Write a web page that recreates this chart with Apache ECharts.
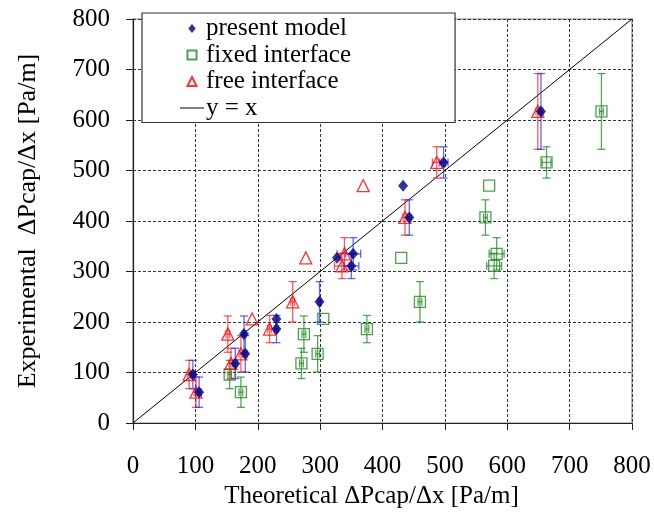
<!DOCTYPE html>
<html>
<head>
<meta charset="utf-8">
<script src="https://cdn.jsdelivr.net/npm/echarts@6/dist/echarts.min.js"></script>
<style>html,body{margin:0;padding:0;background:#fff;}#c{width:654px;height:514px;}</style>
</head>
<body>
<div id="c"></div>
<script>
// Experimental values (shared by all three series)
const expY   = [96, 61, 118, 176, 137, 206, 186, 240, 327, 335, 311, 470, 407, 516, 617];
const expErr = [28, 30, 30, 36, 36, 0, 27, 40, 0, 32, 25, 0, 35, 31, 75];
// Theoretical values per model
const presentX = [96, 106, 164, 178, 180, 230, 230, 299, 327, 353, 350, 433, 443, 498, 654];
const fixedX   = [155, 173, 270, 274, 296, 305, 375, 460, 430, 583, 579, 571, 565, 663, 751];
const freeX    = [90, 101, 157, 152, 173, 191, 219, 256, 277, 339, 335, 369, 436, 487, 649];
const xErr     = [3, 3, 3, 3, 3, 0, 3, 3, 0, 12, 12, 0, 3, 7, 3];
const ticks = [0, 100, 200, 300, 400, 500, 600, 700, 800];
const seriesNames = ['present model', 'fixed interface', 'free interface', 'y = x'];

const FONT = 'Liberation Serif';
const FS = 25;
function pts(xs){ return xs.map((x,i)=>[x, expY[i]]); }
function errData(xs){ return xs.map((x,i)=>[x, expY[i], expErr[i], xErr[i]]); }

function errRenderer(color){
  return function(params, api){
    const x = api.value(0), y = api.value(1), ey = api.value(2), ex = api.value(3);
    const st = {stroke: color, lineWidth: 1.3, opacity: 0.75};
    const ch = [];
    if (ey > 0) {
      const t = api.coord([x, y + ey]), b = api.coord([x, y - ey]);
      ch.push({type:'line', shape:{x1:t[0], y1:t[1], x2:b[0], y2:b[1]}, style:st});
      ch.push({type:'line', shape:{x1:t[0]-4, y1:t[1], x2:t[0]+4, y2:t[1]}, style:st});
      ch.push({type:'line', shape:{x1:b[0]-4, y1:b[1], x2:b[0]+4, y2:b[1]}, style:st});
    }
    if (ex > 0) {
      const l = api.coord([x - ex, y]), r = api.coord([x + ex, y]);
      ch.push({type:'line', shape:{x1:l[0], y1:l[1], x2:r[0], y2:r[1]}, style:st});
      ch.push({type:'line', shape:{x1:l[0], y1:l[1]-4, x2:l[0], y2:l[1]+4}, style:st});
      ch.push({type:'line', shape:{x1:r[0], y1:r[1]-4, x2:r[0], y2:r[1]+4}, style:st});
    }
    return {type:'group', children: ch};
  };
}

const chart = echarts.init(document.getElementById('c'), null, {renderer:'canvas'});
const axisCommon = {
  type: 'value', min: ticks[0], max: ticks[ticks.length-1], interval: 100,
  axisLine: {show:true, onZero:false, lineStyle:{color:'#222', width:1.2}},
  axisTick: {show:true, inside:false, length:7, lineStyle:{color:'#222'}},
  splitLine: {show:true, lineStyle:{color:'#333', type:[3,2], width:1}},
  axisLabel: {color:'#000', fontFamily:FONT, fontSize:FS},
  nameTextStyle: {color:'#000', fontFamily:FONT, fontSize:FS},
  nameLocation: 'middle'
};
chart.setOption({
  animation: false,
  backgroundColor: '#fff',
  grid: {left:133, right:22, top:19, bottom:91, containLabel:false, outerBoundsMode:'none',
         show:true, borderColor:'#888', borderWidth:1.2, backgroundColor:'transparent'},
  xAxis: Object.assign({}, axisCommon, {
    name: 'Theoretical ΔPcap/Δx [Pa/m]', nameGap: 57,
    nameTextStyle: {color:'#000', fontFamily:FONT, fontSize:FS, padding:[0, 22, 0, 0]},
    axisLabel: Object.assign({}, axisCommon.axisLabel, {margin: 31})
  }),
  yAxis: Object.assign({}, axisCommon, {
    name: 'Experimental  ΔPcap/Δx [Pa/m]', nameGap: 92,
    nameTextStyle: {color:'#000', fontFamily:FONT, fontSize:26},
    axisLabel: Object.assign({}, axisCommon.axisLabel, {margin: 23})
  }),
  legend: {
    orient: 'vertical', left: 142, top: 13,
    backgroundColor: '#fff', borderColor: '#333', borderWidth: 1.2,
    padding: [3, 104, 2, 38], itemGap: 1.5, itemWidth: 24, itemHeight: 9,
    symbolKeepAspect: true,
    textStyle: {color:'#000', fontFamily:FONT, fontSize:FS, padding:[0,0,0,-3]},
    data: [
      {name: seriesNames[0], icon: 'path://M5,0 L10,6 L5,12 L0,6 Z'},
      {name: seriesNames[1], icon: 'path://M0,0 H10 V10 H0 Z'},
      {name: seriesNames[2], icon: 'path://M5,0 L10,10 L0,10 Z'},
      {name: seriesNames[3], icon: 'path://M0,0 H24 V1 H0 Z', itemStyle:{color:'#000', borderWidth:0}}
    ]
  },
  series: [
    {name:'err-fixed', type:'custom', renderItem: errRenderer('#1f8a1f'), data: errData(fixedX), encode:{x:0,y:1}, z:2, silent:true},
    {name:'err-free', type:'custom', renderItem: errRenderer('#ff2020'), data: errData(freeX), encode:{x:0,y:1}, z:2, silent:true},
    {name:'err-present', type:'custom', renderItem: errRenderer('#3030ff'), data: errData(presentX), encode:{x:0,y:1}, z:2, silent:true},
    {name: seriesNames[3], type:'line', data: [[ticks[0],ticks[0]],[ticks[ticks.length-1],ticks[ticks.length-1]]], showSymbol:false, symbol:'none',
     lineStyle:{color:'#000', width:1}, itemStyle:{color:'#000'}, z:1},
    {name: seriesNames[1], type:'scatter', data: pts(fixedX), symbol:'rect', symbolSize:11,
     itemStyle:{color:'transparent', borderColor:'#1f8a1f', borderWidth:1.3}, z:3},
    {name: seriesNames[2], type:'scatter', data: pts(freeX), symbol:'triangle', symbolSize:12,
     itemStyle:{color:'transparent', borderColor:'#ff0000', borderWidth:1.3}, z:3},
    {name: seriesNames[0], type:'scatter', data: pts(presentX), symbol:'diamond', symbolSize:[10,12],
     itemStyle:{color:'#000080'}, z:4}
  ]
});
</script>
</body>
</html>
